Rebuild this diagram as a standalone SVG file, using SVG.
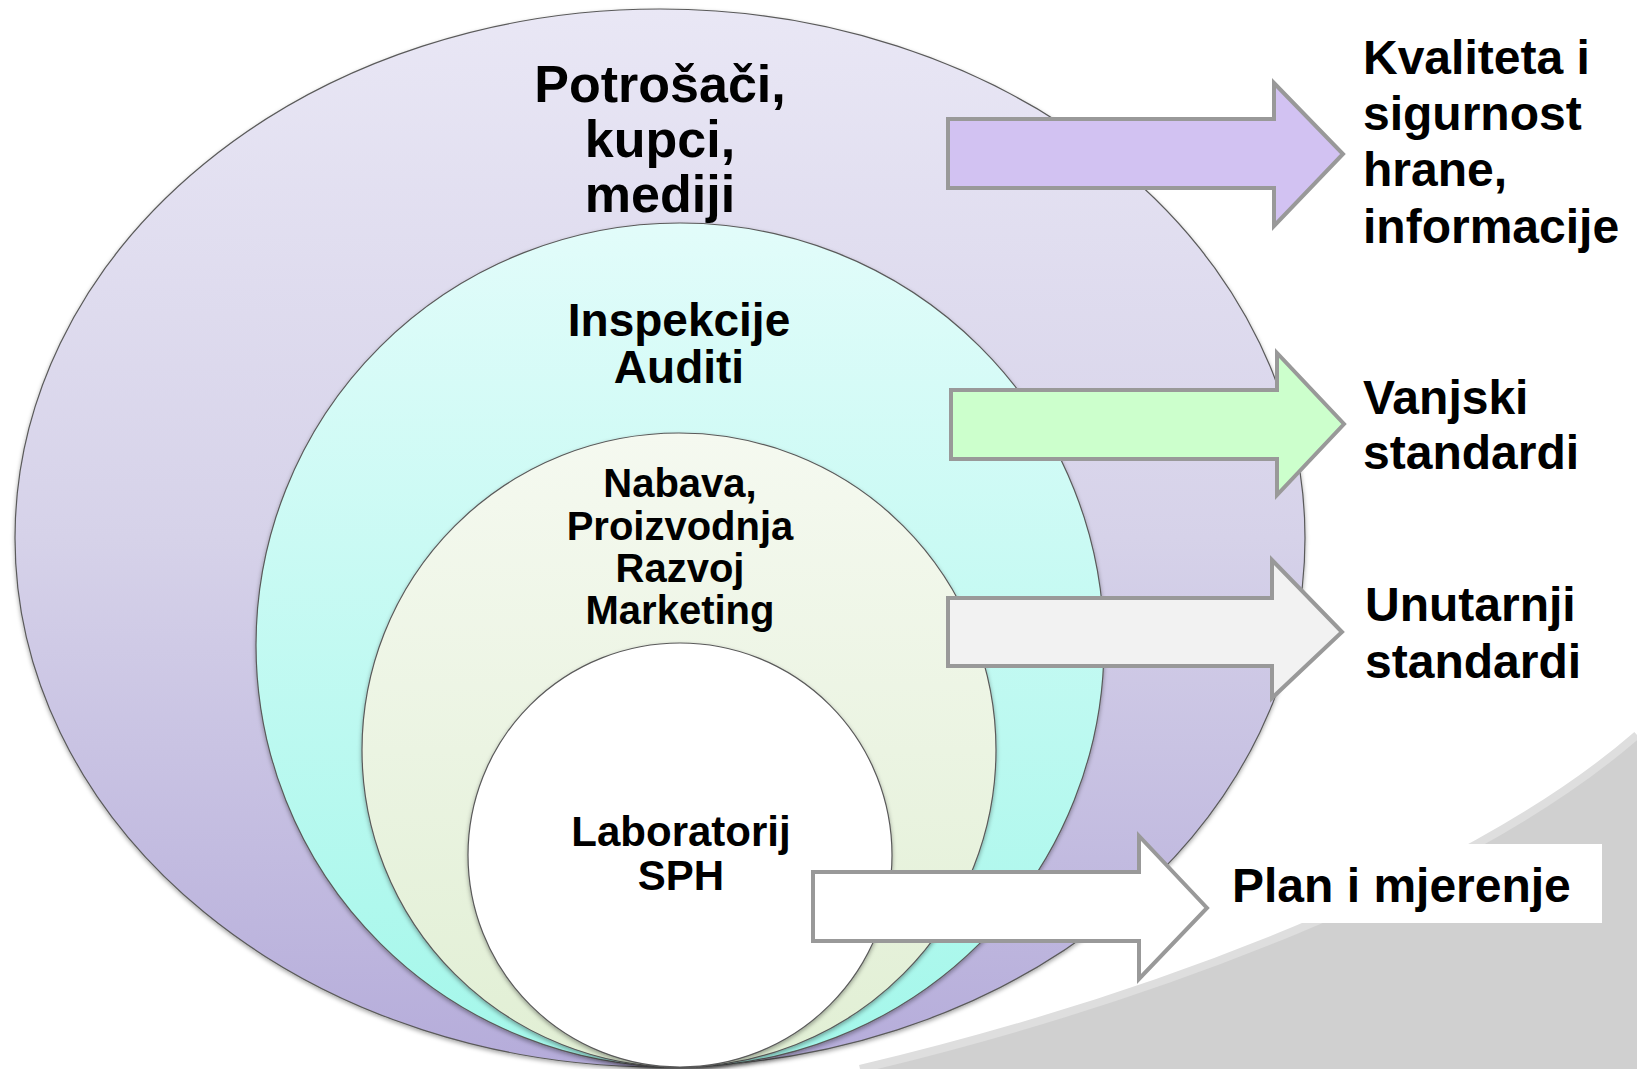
<svg xmlns="http://www.w3.org/2000/svg" width="1637" height="1069" viewBox="0 0 1637 1069">
  <defs>
    <linearGradient id="gOuter" x1="0" y1="0" x2="0" y2="1">
      <stop offset="0" stop-color="#e9e7f5"/>
      <stop offset="0.5" stop-color="#d6d2e9"/>
      <stop offset="1" stop-color="#b5acda"/>
    </linearGradient>
    <linearGradient id="gCyan" x1="0" y1="0" x2="0" y2="1">
      <stop offset="0" stop-color="#e2fcfa"/>
      <stop offset="1" stop-color="#a3f7ea"/>
    </linearGradient>
    <linearGradient id="gGreen" x1="0" y1="0" x2="0" y2="1">
      <stop offset="0" stop-color="#f5f9f0"/>
      <stop offset="1" stop-color="#e1efd4"/>
    </linearGradient>
    <filter id="sh" x="-5%" y="-5%" width="110%" height="110%">
      <feDropShadow dx="0" dy="2" stdDeviation="2" flood-color="#000" flood-opacity="0.35"/>
    </filter>
    <style>
      .ring { stroke: #5a5a5a; stroke-width: 1.2; filter: url(#sh); }
      .arrow { stroke: #999999; stroke-width: 4; stroke-linejoin: miter; }
      .t { font-family: "Liberation Sans", Arial, sans-serif; font-weight: bold; fill: #000; }
      .c { text-anchor: middle; }
    </style>
  </defs>

  <rect x="0" y="0" width="1637" height="1069" fill="#ffffff"/>
  <path id="swoosh" d="M 860 1069 C 1150 1000, 1470 880, 1637 735 L 1637 1069 Z" fill="#d0d0d0"/>
  <path d="M 860 1069 C 1150 1000, 1470 880, 1637 735" fill="none" stroke="#dedede" stroke-width="8"/>

  <g id="ring-outer">
    <ellipse class="ring" cx="660" cy="538" rx="645" ry="529" fill="url(#gOuter)"/>
    <text class="t c" font-size="52" x="660" y="102">Potrošači,</text>
    <text class="t c" font-size="52" x="660" y="157">kupci,</text>
    <text class="t c" font-size="52" x="660" y="212">mediji</text>
  </g>

  <g id="ring-cyan">
    <ellipse class="ring" cx="680" cy="645" rx="424" ry="422" fill="url(#gCyan)"/>
    <text class="t c" font-size="46" x="679" y="336">Inspekcije</text>
    <text class="t c" font-size="46" x="679" y="383">Auditi</text>
  </g>

  <g id="ring-green">
    <ellipse class="ring" cx="679" cy="750" rx="317" ry="317" fill="url(#gGreen)"/>
    <text class="t c" font-size="40" x="680" y="497">Nabava,</text>
    <text class="t c" font-size="40" x="680" y="540">Proizvodnja</text>
    <text class="t c" font-size="40" x="680" y="582">Razvoj</text>
    <text class="t c" font-size="40" x="680" y="624">Marketing</text>
  </g>

  <g id="ring-inner">
    <ellipse class="ring" cx="680" cy="855" rx="212" ry="212" fill="#ffffff"/>
    <text class="t c" font-size="42" x="681" y="846">Laboratorij</text>
    <text class="t c" font-size="42" x="681" y="890">SPH</text>
  </g>

  <g id="connectors">
    <polygon class="arrow" fill="#d2c2f2" points="948,119 1274,119 1274,83 1343,154 1274,226 1274,188 948,188"/>
    <polygon class="arrow" fill="#ccffcc" points="951,390 1277,390 1277,353 1344,424 1277,495 1277,459 951,459"/>
    <polygon class="arrow" fill="#f2f2f2" points="948,598 1272,598 1272,560 1342,632 1272,698 1272,666 948,666"/>
    <polygon class="arrow" fill="#ffffff" points="813,872 1139,872 1139,836 1207,908 1139,979 1139,941 813,941"/>
  </g>

  <g id="label-quality">
    <text class="t" font-size="48" x="1363" y="74">Kvaliteta i</text>
    <text class="t" font-size="48" x="1363" y="130">sigurnost</text>
    <text class="t" font-size="48" x="1363" y="186">hrane,</text>
    <text class="t" font-size="48" x="1363" y="243">informacije</text>
  </g>

  <g id="label-external">
    <text class="t" font-size="48" x="1363" y="414">Vanjski</text>
    <text class="t" font-size="48" x="1363" y="469">standardi</text>
  </g>

  <g id="label-internal">
    <text class="t" font-size="48" x="1365" y="621">Unutarnji</text>
    <text class="t" font-size="48" x="1365" y="678">standardi</text>
  </g>

  <g id="label-plan">
    <rect x="1216" y="844" width="386" height="79" fill="#ffffff"/>
    <text class="t" font-size="48" x="1232" y="902">Plan i mjerenje</text>
  </g>
</svg>
